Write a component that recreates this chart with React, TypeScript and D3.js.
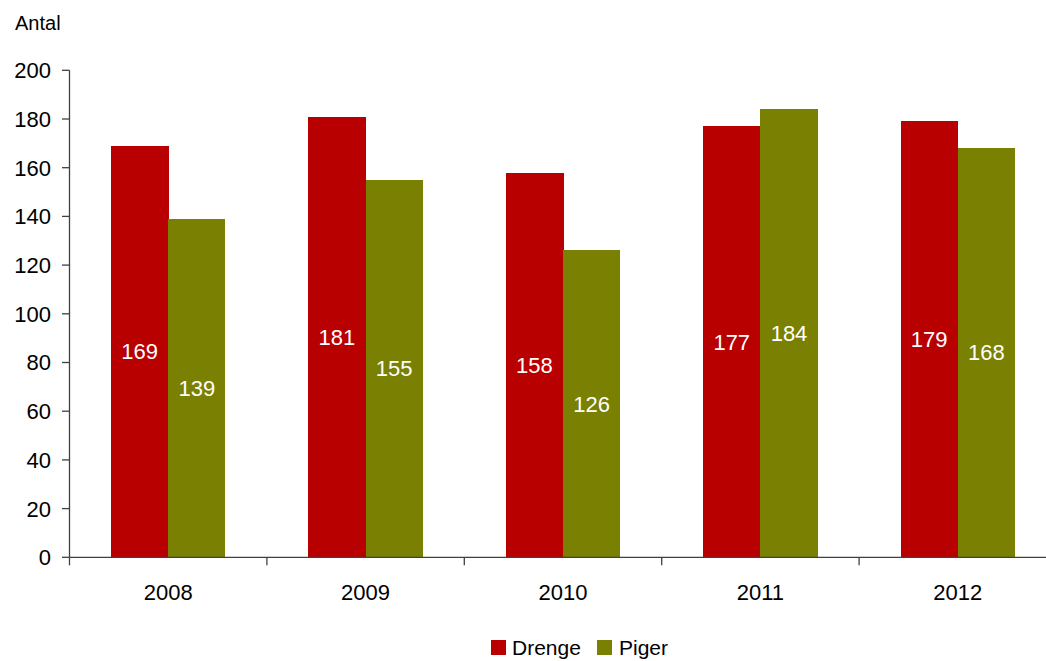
import React from "react";
import * as d3 from "d3";

const years = ["2008", "2009", "2010", "2011", "2012"];
const drenge = [169, 181, 158, 177, 179];
const piger = [139, 155, 126, 184, 168];
const yTicks = [0, 20, 40, 60, 80, 100, 120, 140, 160, 180, 200];
const seriesNames = ["Drenge", "Piger"];
const colors = ["#B80000", "#7A8002"];

const W = 1046;
const H = 661;
const left = 69.5;
const right = 1056.5;
const top = 70.3;
const bottom = 557.3;
const FONT = "'Liberation Sans', Arial, sans-serif";

export default function App() {
  const x0 = d3.scaleBand<string>().domain(years).range([left, right]).paddingInner(0).paddingOuter(0);
  const bw = x0.bandwidth();
  const inner = 0.21;
  const x1 = d3
    .scaleBand<string>()
    .domain(seriesNames)
    .range([bw * inner, bw * (1 - inner)])
    .padding(0);
  const y = d3.scaleLinear().domain([0, 200]).range([bottom, top]);
  const data = [drenge, piger];
  const catTicks = [...years.map((yy) => x0(yy)!), right];

  return (
    <svg
      width={W}
      height={H}
      viewBox={`0 0 ${W} ${H}`}
      style={{ position: "absolute", left: 0, top: 0, background: "#fff" }}
      fontFamily={FONT}
    >
      <rect x={0} y={0} width={W} height={H} fill="#fff" />
      <text x={15} y={30} fontSize={20} fill="#000">Antal</text>

      {/* bars */}
      {years.map((yr, i) => (
        <g key={yr} transform={`translate(${x0(yr)},0)`}>
          {seriesNames.map((s, j) => {
            const v = data[j][i];
            const bx = x1(s)!;
            return (
              <g key={s}>
                <rect
                  x={bx}
                  y={y(v)}
                  width={x1.bandwidth() + (j === 0 ? 0.6 : 0)}
                  height={bottom - y(v)}
                  fill={colors[j]}
                  shapeRendering="crispEdges"
                />
                <text
                  x={bx + x1.bandwidth() / 2}
                  y={(y(v) + bottom) / 2}
                  dy="0.35em"
                  textAnchor="middle"
                  fontSize={22}
                  fill="#fff"
                >
                  {v}
                </text>
              </g>
            );
          })}
        </g>
      ))}

      {/* y axis */}
      <line x1={left} x2={left} y1={top} y2={bottom} stroke="#404040" strokeWidth={1.3} />
      {yTicks.map((t) => (
        <g key={t}>
          <line x1={left - 7.5} x2={left} y1={y(t)} y2={y(t)} stroke="#404040" strokeWidth={1.3} />
          <text x={51} y={y(t)} dy="0.36em" textAnchor="end" fontSize={22} fill="#000">
            {t}
          </text>
        </g>
      ))}

      {/* x axis */}
      <line x1={left} x2={right} y1={bottom} y2={bottom} stroke="#404040" strokeWidth={1.3} />
      {catTicks.map((t, i) => (
        <line key={i} x1={t} x2={t} y1={bottom} y2={bottom + 8} stroke="#404040" strokeWidth={1.3} />
      ))}
      {years.map((yr) => (
        <text key={yr} x={x0(yr)! + bw / 2} y={600} textAnchor="middle" fontSize={22} fill="#000">
          {yr}
        </text>
      ))}

      {/* legend */}
      <rect x={491} y={640} width={15} height={15} fill={colors[0]} />
      <text x={512} y={655} fontSize={21} fill="#000">{seriesNames[0]}</text>
      <rect x={597} y={640} width={15} height={15} fill={colors[1]} />
      <text x={619} y={655} fontSize={21} fill="#000">{seriesNames[1]}</text>
    </svg>
  );
}
